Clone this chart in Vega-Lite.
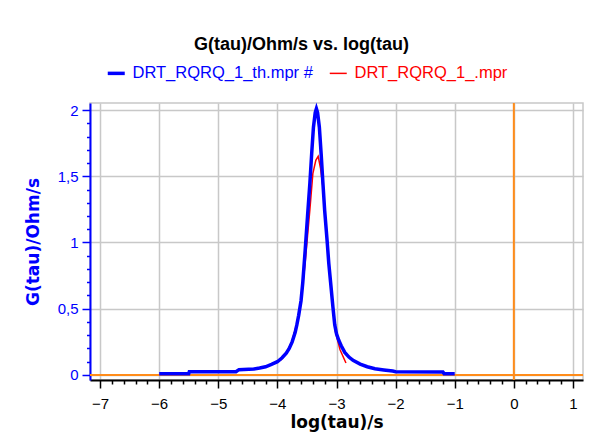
{
  "$schema": "https://vega.github.io/schema/vega-lite/v6.json",
  "autosize": "none",
  "width": 493,
  "height": 277,
  "padding": {"left": 90, "top": 103, "right": 12, "bottom": 61},
  "background": "white",
  "config": {
    "font": "Liberation Sans",
    "view": {"stroke": "#c8c8c8", "strokeWidth": 1.5},
    "axis": {"labelFont": "Liberation Sans", "titleFont": "DejaVu Sans"}
  },
  "title": {
    "text": "G(tau)/Ohm/s vs. log(tau)",
    "font": "Liberation Sans",
    "fontSize": 18,
    "fontWeight": "bold",
    "color": "black",
    "anchor": "middle",
    "dx": -35,
    "offset": 11
  },
  "data": {
    "values": [
      {"series": "DRT_RQRQ_1_th.mpr #", "x": -6.0, "y": 0.01},
      {"series": "DRT_RQRQ_1_th.mpr #", "x": -5.5, "y": 0.01},
      {"series": "DRT_RQRQ_1_th.mpr #", "x": -5.49, "y": 0.025},
      {"series": "DRT_RQRQ_1_th.mpr #", "x": -4.7, "y": 0.025},
      {"series": "DRT_RQRQ_1_th.mpr #", "x": -4.65, "y": 0.04},
      {"series": "DRT_RQRQ_1_th.mpr #", "x": -4.4, "y": 0.045},
      {"series": "DRT_RQRQ_1_th.mpr #", "x": -4.3, "y": 0.052},
      {"series": "DRT_RQRQ_1_th.mpr #", "x": -4.2, "y": 0.062},
      {"series": "DRT_RQRQ_1_th.mpr #", "x": -4.1, "y": 0.08},
      {"series": "DRT_RQRQ_1_th.mpr #", "x": -4.0, "y": 0.1},
      {"series": "DRT_RQRQ_1_th.mpr #", "x": -3.92, "y": 0.13},
      {"series": "DRT_RQRQ_1_th.mpr #", "x": -3.85, "y": 0.165},
      {"series": "DRT_RQRQ_1_th.mpr #", "x": -3.8, "y": 0.2},
      {"series": "DRT_RQRQ_1_th.mpr #", "x": -3.75, "y": 0.25},
      {"series": "DRT_RQRQ_1_th.mpr #", "x": -3.7, "y": 0.32},
      {"series": "DRT_RQRQ_1_th.mpr #", "x": -3.67, "y": 0.38},
      {"series": "DRT_RQRQ_1_th.mpr #", "x": -3.64, "y": 0.45},
      {"series": "DRT_RQRQ_1_th.mpr #", "x": -3.6, "y": 0.56},
      {"series": "DRT_RQRQ_1_th.mpr #", "x": -3.57, "y": 0.7},
      {"series": "DRT_RQRQ_1_th.mpr #", "x": -3.53, "y": 0.94},
      {"series": "DRT_RQRQ_1_th.mpr #", "x": -3.49, "y": 1.2},
      {"series": "DRT_RQRQ_1_th.mpr #", "x": -3.45, "y": 1.45},
      {"series": "DRT_RQRQ_1_th.mpr #", "x": -3.42, "y": 1.67},
      {"series": "DRT_RQRQ_1_th.mpr #", "x": -3.39, "y": 1.87},
      {"series": "DRT_RQRQ_1_th.mpr #", "x": -3.36, "y": 1.98},
      {"series": "DRT_RQRQ_1_th.mpr #", "x": -3.34, "y": 2.01},
      {"series": "DRT_RQRQ_1_th.mpr #", "x": -3.32, "y": 1.98},
      {"series": "DRT_RQRQ_1_th.mpr #", "x": -3.29, "y": 1.87},
      {"series": "DRT_RQRQ_1_th.mpr #", "x": -3.26, "y": 1.67},
      {"series": "DRT_RQRQ_1_th.mpr #", "x": -3.23, "y": 1.45},
      {"series": "DRT_RQRQ_1_th.mpr #", "x": -3.2, "y": 1.24},
      {"series": "DRT_RQRQ_1_th.mpr #", "x": -3.16, "y": 1.02},
      {"series": "DRT_RQRQ_1_th.mpr #", "x": -3.13, "y": 0.84},
      {"series": "DRT_RQRQ_1_th.mpr #", "x": -3.1, "y": 0.7},
      {"series": "DRT_RQRQ_1_th.mpr #", "x": -3.06, "y": 0.51},
      {"series": "DRT_RQRQ_1_th.mpr #", "x": -3.03, "y": 0.38},
      {"series": "DRT_RQRQ_1_th.mpr #", "x": -3.0, "y": 0.31},
      {"series": "DRT_RQRQ_1_th.mpr #", "x": -2.96, "y": 0.26},
      {"series": "DRT_RQRQ_1_th.mpr #", "x": -2.92, "y": 0.22},
      {"series": "DRT_RQRQ_1_th.mpr #", "x": -2.86, "y": 0.17},
      {"series": "DRT_RQRQ_1_th.mpr #", "x": -2.79, "y": 0.135},
      {"series": "DRT_RQRQ_1_th.mpr #", "x": -2.72, "y": 0.11},
      {"series": "DRT_RQRQ_1_th.mpr #", "x": -2.6, "y": 0.082},
      {"series": "DRT_RQRQ_1_th.mpr #", "x": -2.48, "y": 0.062},
      {"series": "DRT_RQRQ_1_th.mpr #", "x": -2.35, "y": 0.047},
      {"series": "DRT_RQRQ_1_th.mpr #", "x": -2.2, "y": 0.038},
      {"series": "DRT_RQRQ_1_th.mpr #", "x": -2.05, "y": 0.03},
      {"series": "DRT_RQRQ_1_th.mpr #", "x": -2.0, "y": 0.025},
      {"series": "DRT_RQRQ_1_th.mpr #", "x": -1.2, "y": 0.022},
      {"series": "DRT_RQRQ_1_th.mpr #", "x": -1.18, "y": 0.01},
      {"series": "DRT_RQRQ_1_th.mpr #", "x": -1.0, "y": 0.01},
      {"series": "DRT_RQRQ_1_.mpr", "x": -3.95, "y": 0.11},
      {"series": "DRT_RQRQ_1_.mpr", "x": -3.85, "y": 0.16},
      {"series": "DRT_RQRQ_1_.mpr", "x": -3.75, "y": 0.26},
      {"series": "DRT_RQRQ_1_.mpr", "x": -3.67, "y": 0.39},
      {"series": "DRT_RQRQ_1_.mpr", "x": -3.6, "y": 0.55},
      {"series": "DRT_RQRQ_1_.mpr", "x": -3.53, "y": 0.85},
      {"series": "DRT_RQRQ_1_.mpr", "x": -3.49, "y": 1.05},
      {"series": "DRT_RQRQ_1_.mpr", "x": -3.45, "y": 1.25},
      {"series": "DRT_RQRQ_1_.mpr", "x": -3.4, "y": 1.52},
      {"series": "DRT_RQRQ_1_.mpr", "x": -3.35, "y": 1.62},
      {"series": "DRT_RQRQ_1_.mpr", "x": -3.31, "y": 1.65},
      {"series": "DRT_RQRQ_1_.mpr", "x": -3.27, "y": 1.56},
      {"series": "DRT_RQRQ_1_.mpr", "x": -3.23, "y": 1.42},
      {"series": "DRT_RQRQ_1_.mpr", "x": -3.17, "y": 1.07},
      {"series": "DRT_RQRQ_1_.mpr", "x": -3.11, "y": 0.74},
      {"series": "DRT_RQRQ_1_.mpr", "x": -3.06, "y": 0.51},
      {"series": "DRT_RQRQ_1_.mpr", "x": -3.02, "y": 0.33},
      {"series": "DRT_RQRQ_1_.mpr", "x": -2.94, "y": 0.19},
      {"series": "DRT_RQRQ_1_.mpr", "x": -2.84, "y": 0.09}
    ]
  },
  "encoding": {
    "x": {
      "field": "x",
      "type": "quantitative",
      "scale": {"domain": [-7.17, 1.17], "nice": false, "zero": false},
      "axis": {
        "title": "log(tau)/s",
        "titleFontSize": 17,
        "titleFontWeight": "bold",
        "titleColor": "black",
        "titlePadding": 3,
        "values": [-7, -6.8, -6.6, -6.4, -6.2, -6, -5.8, -5.6, -5.4, -5.2, -5, -4.8, -4.6, -4.4, -4.2, -4, -3.8, -3.6, -3.4, -3.2, -3, -2.8, -2.6, -2.4, -2.2, -2, -1.8, -1.6, -1.4, -1.2, -1, -0.8, -0.6, -0.4, -0.2, 0, 0.2, 0.4, 0.6, 0.8, 1],
        "labelExpr": "abs(datum.value - round(datum.value)) < 1e-6 ? format(datum.value, 'd') : ''",
        "labelFontSize": 15,
        "labelColor": "black",
        "labelPadding": 8,
        "labelFlush": false,
        "labelOverlap": false,
        "domainColor": "black",
        "domainWidth": 2,
        "tickColor": "black",
        "tickWidth": 1.5,
        "tickSize": {"condition": {"test": "abs(datum.value - round(datum.value)) < 1e-6", "value": 8}, "value": 4},
        "grid": true,
        "gridColor": "#c8c8c8",
        "gridWidth": 1.5,
        "gridOpacity": {"condition": {"test": "abs(datum.value - round(datum.value)) < 1e-6", "value": 1}, "value": 0}
      }
    },
    "y": {
      "field": "y",
      "type": "quantitative",
      "scale": {"domain": [-0.038, 2.053], "nice": false, "zero": false},
      "axis": {
        "title": "G(tau)/Ohm/s",
        "titleFontSize": 17,
        "titleFontWeight": "bold",
        "titleColor": "#0000ff",
        "titlePadding": 15,
        "values": [0, 0.1, 0.2, 0.3, 0.4, 0.5, 0.6, 0.7, 0.8, 0.9, 1, 1.1, 1.2, 1.3, 1.4, 1.5, 1.6, 1.7, 1.8, 1.9, 2],
        "labelExpr": "abs(datum.value * 2 - round(datum.value * 2)) < 1e-6 ? replace(toString(datum.value), '.', ',') : ''",
        "labelFontSize": 15,
        "labelColor": "#0000ff",
        "labelPadding": 4,
        "labelOverlap": false,
        "labelFlush": false,
        "domainColor": "#0000ff",
        "domainWidth": 2,
        "tickColor": "#0000ff",
        "tickWidth": 1.5,
        "tickSize": {"condition": {"test": "abs(datum.value * 2 - round(datum.value * 2)) < 1e-6", "value": 8}, "value": 3.5},
        "grid": true,
        "gridColor": "#c8c8c8",
        "gridWidth": 1.5,
        "gridOpacity": {"condition": {"test": "abs(datum.value * 2 - round(datum.value * 2)) < 1e-6", "value": 1}, "value": 0}
      }
    }
  },
  "layer": [
    {
      "data": {"values": [{"v": 0}]},
      "mark": {"type": "rule", "color": "#ff8c1a", "strokeWidth": 2},
      "encoding": {"x": {"field": "v", "type": "quantitative"}, "y": null}
    },
    {
      "data": {"values": [{"v": 0}]},
      "mark": {"type": "rule", "color": "#ff8c1a", "strokeWidth": 2},
      "encoding": {"y": {"field": "v", "type": "quantitative"}, "x": null}
    },
    {
      "transform": [{"filter": "datum.series === 'DRT_RQRQ_1_.mpr'"}],
      "mark": {"type": "line", "strokeWidth": 1.5},
      "encoding": {
        "color": {
          "field": "series",
          "type": "nominal",
          "scale": {"domain": ["DRT_RQRQ_1_th.mpr #", "DRT_RQRQ_1_.mpr"], "range": ["#0000ff", "#ff0000"]},
          "legend": {
            "title": null,
            "orient": "none",
            "legendX": 18,
            "legendY": -38,
            "direction": "horizontal",
            "symbolType": "stroke",
            "symbolSize": 289,
            "symbolStrokeWidth": 3,
            "labelFont": "Liberation Sans",
            "labelFontSize": 16.5,
            "labelLimit": 400,
            "labelOffset": 8,
            "columnPadding": 13,
            "encode": {
              "labels": {"update": {"fill": {"signal": "datum.value === 'DRT_RQRQ_1_th.mpr #' ? '#0000ff' : '#ff0000'"}}},
              "symbols": {"update": {"strokeWidth": {"signal": "datum.value === 'DRT_RQRQ_1_th.mpr #' ? 3.5 : 1.5"}}}
            }
          }
        }
      }
    },
    {
      "transform": [{"filter": "datum.series === 'DRT_RQRQ_1_th.mpr #'"}],
      "mark": {"type": "line", "strokeWidth": 3.5},
      "encoding": {
        "color": {"field": "series", "type": "nominal"}
      }
    }
  ]
}
